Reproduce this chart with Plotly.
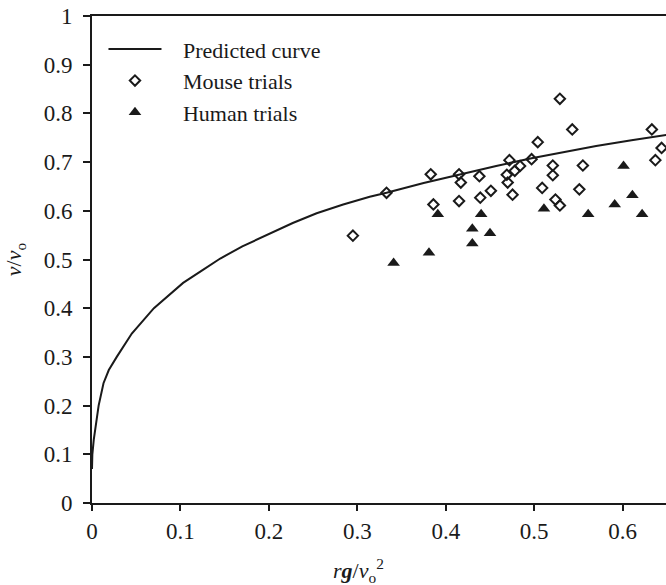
import plotly.graph_objects as go

# Predicted curve
curve_x = [0.0, 0.0004, 0.002, 0.004, 0.0075, 0.013, 0.019, 0.028, 0.045, 0.07, 0.09,
           0.103, 0.125, 0.145, 0.17, 0.2, 0.227, 0.254, 0.284, 0.314, 0.333, 0.375,
           0.416, 0.457, 0.497, 0.535, 0.57, 0.61, 0.65]
curve_y = [0.07, 0.10, 0.13, 0.157, 0.20, 0.246, 0.273, 0.30, 0.348, 0.40, 0.431,
           0.452, 0.478, 0.502, 0.527, 0.553, 0.575, 0.595, 0.613, 0.629, 0.637, 0.657,
           0.675, 0.692, 0.708, 0.721, 0.733, 0.745, 0.756]

# Mouse trials
mouse_x = [0.295, 0.333, 0.383, 0.386, 0.415, 0.417, 0.415, 0.438, 0.439, 0.451,
           0.469, 0.470, 0.472, 0.4755, 0.478, 0.484, 0.497, 0.504, 0.509, 0.521,
           0.521, 0.524, 0.529, 0.529, 0.543, 0.555, 0.551, 0.633, 0.637, 0.644]
mouse_y = [0.549, 0.637, 0.675, 0.613, 0.675, 0.658, 0.620, 0.671, 0.627, 0.641,
           0.674, 0.658, 0.704, 0.633, 0.682, 0.692, 0.706, 0.741, 0.647, 0.693,
           0.673, 0.623, 0.611, 0.830, 0.767, 0.693, 0.644, 0.767, 0.704, 0.729]

# Human trials
human_x = [0.341, 0.381, 0.391, 0.430, 0.430, 0.440, 0.450, 0.511, 0.561, 0.591,
           0.601, 0.611, 0.622]
human_y = [0.493, 0.514, 0.593, 0.563, 0.533, 0.593, 0.554, 0.604, 0.593, 0.613,
           0.692, 0.632, 0.593]

x_ticks = [0, 0.1, 0.2, 0.3, 0.4, 0.5, 0.6]
x_tick_text = ["0", "0.1", "0.2", "0.3", "0.4", "0.5", "0.6"]
y_ticks = [0, 0.1, 0.2, 0.3, 0.4, 0.5, 0.6, 0.7, 0.8, 0.9, 1]
y_tick_text = ["0", "0.1", "0.2", "0.3", "0.4", "0.5", "0.6", "0.7", "0.8", "0.9", "1"]

FONT = "Liberation Serif"
INK = "#1a1a1a"
NB = "\u00a0\u00a0\u00a0"

fig = go.Figure()
fig.add_trace(go.Scatter(x=curve_x, y=curve_y, mode="lines", name=NB + "Predicted curve",
                         line=dict(color=INK, width=2, shape="linear")))
fig.add_trace(go.Scatter(x=mouse_x, y=mouse_y, mode="markers", name=NB + "Mouse trials",
                         marker=dict(symbol="diamond-open", size=8, color=INK,
                                     line=dict(width=2, color=INK))))
fig.add_trace(go.Scatter(x=human_x, y=human_y, mode="markers", name=NB + "Human trials",
                         marker=dict(symbol="triangle-up", size=11, color=INK,
                                     line=dict(width=0))))

fig.update_layout(
    width=666, height=585,
    margin=dict(l=92, r=0, t=16, b=82),
    paper_bgcolor="white", plot_bgcolor="white",
    font=dict(family=FONT, size=23, color=INK),
    showlegend=True,
    legend=dict(x=0.02, y=0.975, xanchor="left", yanchor="top",
                bgcolor="rgba(0,0,0,0)", itemwidth=53,
                font=dict(family=FONT, size=22, color=INK), tracegroupgap=0),
    xaxis=dict(range=[0, 0.649], tickvals=x_ticks, ticktext=x_tick_text,
               showgrid=False, zeroline=False, showline=True, linecolor=INK,
               linewidth=2, mirror=True, ticks="outside", ticklen=6, tickwidth=2,
               tickcolor=INK, ticklabelstandoff=0),
    yaxis=dict(range=[0, 1], tickvals=y_ticks, ticktext=y_tick_text,
               showgrid=False, zeroline=False, showline=True, linecolor=INK,
               linewidth=2, ticks="outside", ticklen=7, tickwidth=2,
               tickcolor=INK, ticklabelstandoff=6,
               title=dict(text="<i>v</i>/<i>v</i><sub>o</sub>",
                          font=dict(family=FONT, size=22), standoff=16)),
)

fig.add_annotation(xref="paper", yref="paper", x=(358 - 92) / 574, y=-0.138,
                   xanchor="center", yanchor="middle", showarrow=False,
                   text="<i>r</i><b><i>g</i></b>/<i>v</i><sub>o</sub><sup>2</sup>",
                   font=dict(family=FONT, size=22, color=INK))

fig.write_html("out.html")
